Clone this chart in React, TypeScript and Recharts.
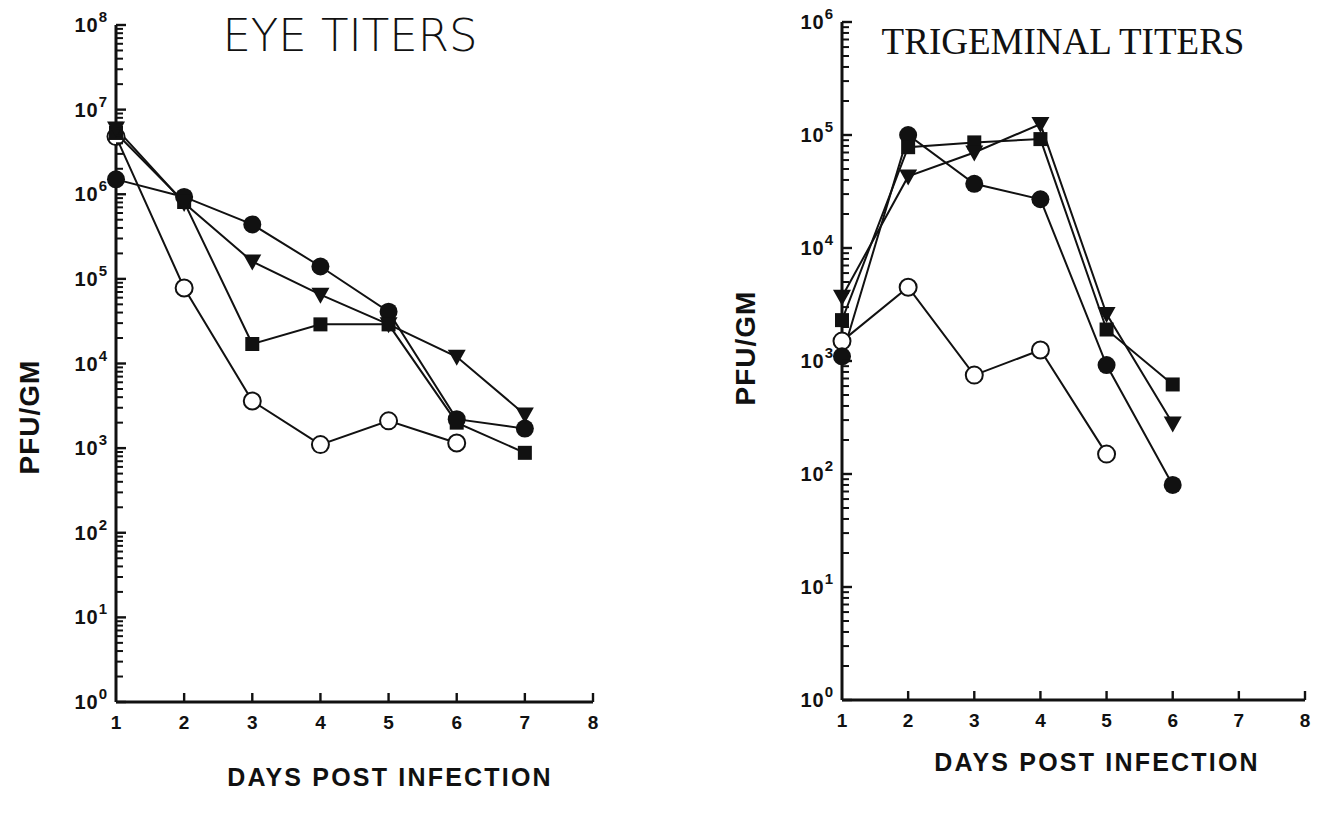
import React from "react"
import { LineChart, Line, XAxis, YAxis } from "recharts"

const days = [1, 2, 3, 4, 5, 6, 7]
const dayTicks = [1, 2, 3, 4, 5, 6, 7, 8]

// eye titers (PFU/GM)
const eyeFilledCircle = [1.5e6, 9.3e5, 4.4e5, 1.4e5, 4.1e4, 2.2e3, 1.7e3]
const eyeTriangle = [6.0e6, 7.9e5, 1.6e5, 6.5e4, 2.9e4, 1.2e4, 2.5e3]
const eyeSquare = [5.3e6, 8.1e5, 1.7e4, 2.9e4, 2.9e4, 2.0e3, 8.8e2]
const eyeOpenCircle = [4.8e6, 7.8e4, 3.6e3, 1.1e3, 2.1e3, 1.15e3, null]

// trigeminal titers (PFU/GM)
const trigFilledCircle = [1.1e3, 1.0e5, 3.7e4, 2.7e4, 9.2e2, 8.0e1, null]
const trigSquare = [2.3e3, 7.8e4, 8.6e4, 9.2e4, 1.9e3, 6.2e2, null]
const trigTriangle = [3.7e3, 4.3e4, 7.0e4, 1.25e5, 2.6e3, 2.8e2, null]
const trigOpenCircle = [1.5e3, 4.5e3, 7.5e2, 1.25e3, 1.5e2, null, null]

const eyeDecades = [0, 1, 2, 3, 4, 5, 6, 7, 8]
const trigDecades = [0, 1, 2, 3, 4, 5, 6]
const minorSteps = [2, 3, 4, 5, 6, 7, 8, 9]

function logTicks(decades: number[]) {
  const out: number[] = []
  decades.forEach((d, i) => {
    out.push(Math.pow(10, d))
    if (i < decades.length - 1) minorSteps.forEach((m) => out.push(m * Math.pow(10, d)))
  })
  return out
}

function toRows(a: any[], b: any[], c: any[], d: any[]) {
  return days.map((day, i) => ({ day, fc: a[i], tri: b[i], sq: c[i], oc: d[i] }))
}

const eyeRows = toRows(eyeFilledCircle, eyeTriangle, eyeSquare, eyeOpenCircle)
const trigRows = toRows(trigFilledCircle, trigTriangle, trigSquare, trigOpenCircle)

const INK = "#111"
const sansBold = "'Liberation Sans', Arial, sans-serif"

const FilledDot = (p: any) =>
  p.cx == null || p.value == null ? null : <circle key={`fc${p.index}`} cx={p.cx} cy={p.cy} r={9} fill={INK} />
const OpenDot = (p: any) =>
  p.cx == null || p.value == null ? null : (
    <circle key={`oc${p.index}`} cx={p.cx} cy={p.cy} r={8.5} fill="#fff" stroke={INK} strokeWidth={2} />
  )
const SquareDot = (p: any) =>
  p.cx == null || p.value == null ? null : (
    <rect key={`sq${p.index}`} x={p.cx - 7} y={p.cy - 7} width={14} height={14} fill={INK} />
  )
const TriangleDot = (p: any) =>
  p.cx == null || p.value == null ? null : (
    <path
      key={`tr${p.index}`}
      d={`M${p.cx - 9},${p.cy - 7} L${p.cx + 9},${p.cy - 7} L${p.cx},${p.cy + 9} Z`}
      fill={INK}
    />
  )

const YTick = (props: any) => {
  const { x, y, payload } = props
  const exp = Math.log10(payload.value)
  const major = Math.abs(exp - Math.round(exp)) < 1e-6
  if (!major) return <line x1={x} x2={x + 7} y1={y} y2={y} stroke={INK} strokeWidth={2} />
  return (
    <g>
      <line x1={x} x2={x + 10} y1={y} y2={y} stroke={INK} strokeWidth={2.4} />
      <text x={x - 9} y={y + 7} textAnchor="end" fontFamily={sansBold} fontWeight="bold" fill={INK}>
        <tspan fontSize={20} letterSpacing={1}>10</tspan>
        <tspan fontSize={15} dy={-10}>{Math.round(exp)}</tspan>
      </text>
    </g>
  )
}

const XTick = (props: any) => {
  const { x, y, payload } = props
  return (
    <g>
      {payload.value !== 1 && <line x1={x} x2={x} y1={y} y2={y - 9} stroke={INK} strokeWidth={2.4} />}
      <text x={x} y={y + 27} textAnchor="middle" fontFamily={sansBold} fontWeight="bold" fontSize={19} fill={INK}>
        {payload.value}
      </text>
    </g>
  )
}

function Panel(props: { rows: any[]; decades: number[]; width: number; yWidth: number; top: number; bottom: number; right: number }) {
  const { rows, decades, width, yWidth, top, bottom, right } = props
  const maxExp = decades[decades.length - 1]
  return (
    <LineChart width={width} height={813} data={rows} margin={{ top, right, bottom: 0, left: 0 }}>
      <XAxis
        dataKey="day"
        type="number"
        domain={[1, 8]}
        ticks={dayTicks}
        interval={0}
        height={bottom}
        tickSize={0}
        tickMargin={0}
        tick={<XTick />}
        tickLine={false}
        axisLine={{ stroke: INK, strokeWidth: 3 }}
      />
      <YAxis
        scale="log"
        type="number"
        domain={[1, Math.pow(10, maxExp)]}
        allowDataOverflow
        ticks={logTicks(decades)}
        interval={0}
        width={yWidth}
        tickSize={0}
        tickMargin={0}
        tick={<YTick />}
        tickLine={false}
        axisLine={{ stroke: INK, strokeWidth: 3 }}
      />
      <Line dataKey="oc" stroke={INK} strokeWidth={2} dot={OpenDot} isAnimationActive={false} />
      <Line dataKey="fc" stroke={INK} strokeWidth={2} dot={FilledDot} isAnimationActive={false} />
      <Line dataKey="sq" stroke={INK} strokeWidth={2} dot={SquareDot} isAnimationActive={false} />
      <Line dataKey="tri" stroke={INK} strokeWidth={2} dot={TriangleDot} isAnimationActive={false} />
    </LineChart>
  )
}

export default function App() {
  return (
    <div style={{ position: "absolute", left: 0, top: 0, width: 1322, height: 813, background: "#fff", overflow: "hidden" }}>
      <div style={{ position: "absolute", left: 0, top: 0 }}>
        <Panel rows={eyeRows} decades={eyeDecades} width={640} yWidth={116} top={25} bottom={111} right={47} />
      </div>
      <div style={{ position: "absolute", left: 700, top: 0 }}>
        <Panel rows={trigRows} decades={trigDecades} width={622} yWidth={142} top={22} bottom={113} right={17} />
      </div>
      <svg width={1322} height={813} style={{ position: "absolute", left: 0, top: 0, pointerEvents: "none" }}>
        <text x={350} y={51} textAnchor="middle" fontFamily="'DejaVu Sans', sans-serif" fontWeight={200} fontSize={45} fill={INK}>
          EYE TITERS
        </text>
        <text x={1063} y={54} textAnchor="middle" fontFamily="'Liberation Serif', 'DejaVu Serif', serif" fontSize={37} fill={INK}>
          TRIGEMINAL TITERS
        </text>
        <text x={390} y={786} textAnchor="middle" fontFamily={sansBold} fontWeight="bold" fontSize={25} letterSpacing={2.2} fill={INK}>
          DAYS POST INFECTION
        </text>
        <text x={1097} y={771} textAnchor="middle" fontFamily={sansBold} fontWeight="bold" fontSize={25} letterSpacing={2.2} fill={INK}>
          DAYS POST INFECTION
        </text>
        <text transform="translate(39,417) rotate(-90)" textAnchor="middle" fontFamily={sansBold} fontWeight="bold" fontSize={28} letterSpacing={1} fill={INK}>
          PFU/GM
        </text>
        <text transform="translate(755,348) rotate(-90)" textAnchor="middle" fontFamily={sansBold} fontWeight="bold" fontSize={28} letterSpacing={1} fill={INK}>
          PFU/GM
        </text>
      </svg>
    </div>
  )
}
